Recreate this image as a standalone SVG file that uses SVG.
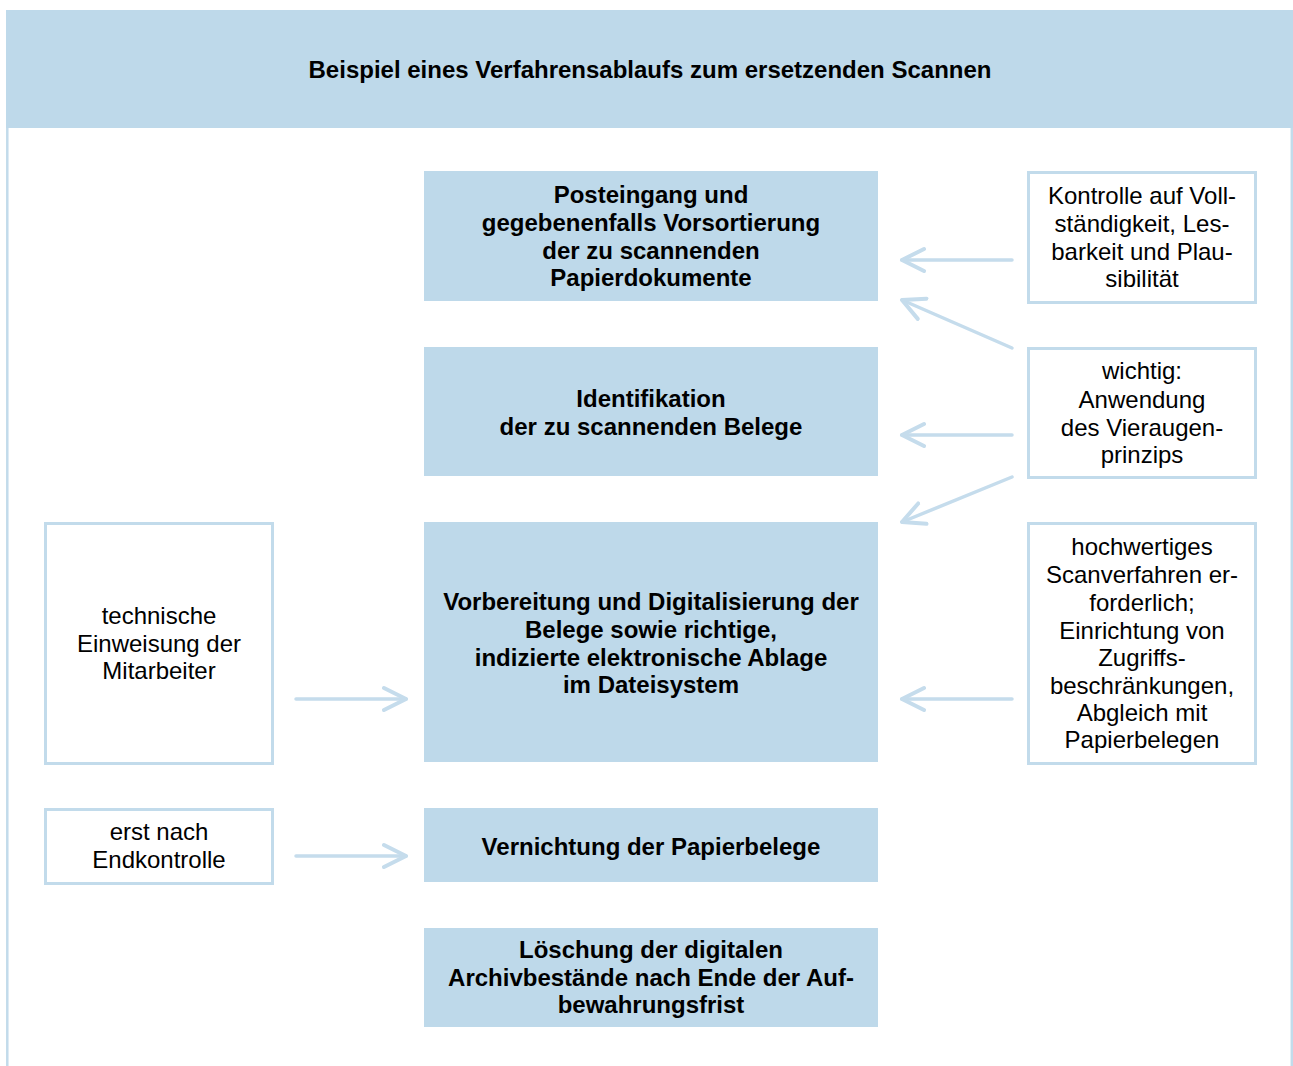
<svg xmlns="http://www.w3.org/2000/svg" width="1293" height="1066" viewBox="0 0 1293 1066">
<style>
.bg{fill:#ffffff}
.hdr{fill:#bed9ea}
.main{fill:#bed9ea}
.note{fill:#ffffff;stroke:#c2dbeb;stroke-width:3}
.frame{fill:none;stroke:#c2dbeb;stroke-width:2.5}
.conn{fill:none;stroke:#c5dcec;stroke-width:3.5;stroke-linecap:round;stroke-linejoin:round}
text{font-family:"Liberation Sans",Arial,sans-serif;font-size:24px;fill:#000;text-anchor:middle}
.b{font-weight:bold}
</style>
<defs>
<marker id="ah" viewBox="0 0 30 30" refX="24" refY="15" markerWidth="30" markerHeight="30" markerUnits="userSpaceOnUse" orient="auto">
<path d="M2,4 L24,15 L2,26" fill="none" stroke="#c5dcec" stroke-width="4" stroke-linecap="round" stroke-linejoin="round"/>
</marker>
</defs>
<rect class="bg" x="0" y="0" width="1293" height="1066"/>
<line class="frame" x1="7.3" y1="10" x2="7.3" y2="1066"/>
<line class="frame" x1="1291.8" y1="10" x2="1291.8" y2="1066"/>
<g id="header">
<rect class="hdr" x="6" y="10" width="1287" height="118"/>
<text class="b" x="650" y="78">Beispiel eines Verfahrensablaufs zum ersetzenden Scannen</text>
</g>
<g id="n1">
<rect class="main" x="424" y="171" width="454" height="130"/>
<text class="b" x="651" y="203">Posteingang und</text>
<text class="b" x="651" y="231">gegebenenfalls Vorsortierung</text>
<text class="b" x="651" y="259">der zu scannenden</text>
<text class="b" x="651" y="286">Papierdokumente</text>
</g>
<g id="n2">
<rect class="main" x="424" y="347" width="454" height="129"/>
<text class="b" x="651" y="407">Identifikation</text>
<text class="b" x="651" y="435">der zu scannenden Belege</text>
</g>
<g id="n3">
<rect class="main" x="424" y="522" width="454" height="240"/>
<text class="b" x="651" y="610">Vorbereitung und Digitalisierung der</text>
<text class="b" x="651" y="638">Belege sowie richtige,</text>
<text class="b" x="651" y="666">indizierte elektronische Ablage</text>
<text class="b" x="651" y="693">im Dateisystem</text>
</g>
<g id="n4">
<rect class="main" x="424" y="808" width="454" height="74"/>
<text class="b" x="651" y="855">Vernichtung der Papierbelege</text>
</g>
<g id="n5">
<rect class="main" x="424" y="928" width="454" height="99"/>
<text class="b" x="651" y="958">Löschung der digitalen</text>
<text class="b" x="651" y="986">Archivbestände nach Ende der Auf-</text>
<text class="b" x="651" y="1013">bewahrungsfrist</text>
</g>
<g id="r1">
<rect class="note" x="1028.5" y="172.5" width="227" height="130"/>
<text x="1142" y="204">Kontrolle auf Voll-</text>
<text x="1142" y="232">ständigkeit, Les-</text>
<text x="1142" y="260">barkeit und Plau-</text>
<text x="1142" y="287">sibilität</text>
</g>
<g id="r2">
<rect class="note" x="1028.5" y="348.5" width="227" height="129"/>
<text x="1142" y="379">wichtig:</text>
<text x="1142" y="408">Anwendung</text>
<text x="1142" y="436">des Vieraugen-</text>
<text x="1142" y="463">prinzips</text>
</g>
<g id="r3">
<rect class="note" x="1028.5" y="523.5" width="227" height="240"/>
<text x="1142" y="555">hochwertiges</text>
<text x="1142" y="583">Scanverfahren er-</text>
<text x="1142" y="611">forderlich;</text>
<text x="1142" y="639">Einrichtung von</text>
<text x="1142" y="666">Zugriffs-</text>
<text x="1142" y="694">beschränkungen,</text>
<text x="1142" y="721">Abgleich mit</text>
<text x="1142" y="748">Papierbelegen</text>
</g>
<g id="l1">
<rect class="note" x="45.5" y="523.5" width="227" height="240"/>
<text x="159" y="624">technische</text>
<text x="159" y="652">Einweisung der</text>
<text x="159" y="679">Mitarbeiter</text>
</g>
<g id="l2">
<rect class="note" x="45.5" y="809.5" width="227" height="74"/>
<text x="159" y="840">erst nach</text>
<text x="159" y="868">Endkontrolle</text>
</g>
<g id="connectors">
<line class="conn" x1="1012" y1="260" x2="902" y2="260" marker-end="url(#ah)"/>
<line class="conn" x1="1012" y1="348" x2="902" y2="300" marker-end="url(#ah)"/>
<line class="conn" x1="1012" y1="435" x2="902" y2="435" marker-end="url(#ah)"/>
<line class="conn" x1="1012" y1="477" x2="902" y2="522" marker-end="url(#ah)"/>
<line class="conn" x1="1012" y1="699" x2="902" y2="699" marker-end="url(#ah)"/>
<line class="conn" x1="296" y1="699" x2="406" y2="699" marker-end="url(#ah)"/>
<line class="conn" x1="296" y1="856" x2="406" y2="856" marker-end="url(#ah)"/>
</g>
</svg>
